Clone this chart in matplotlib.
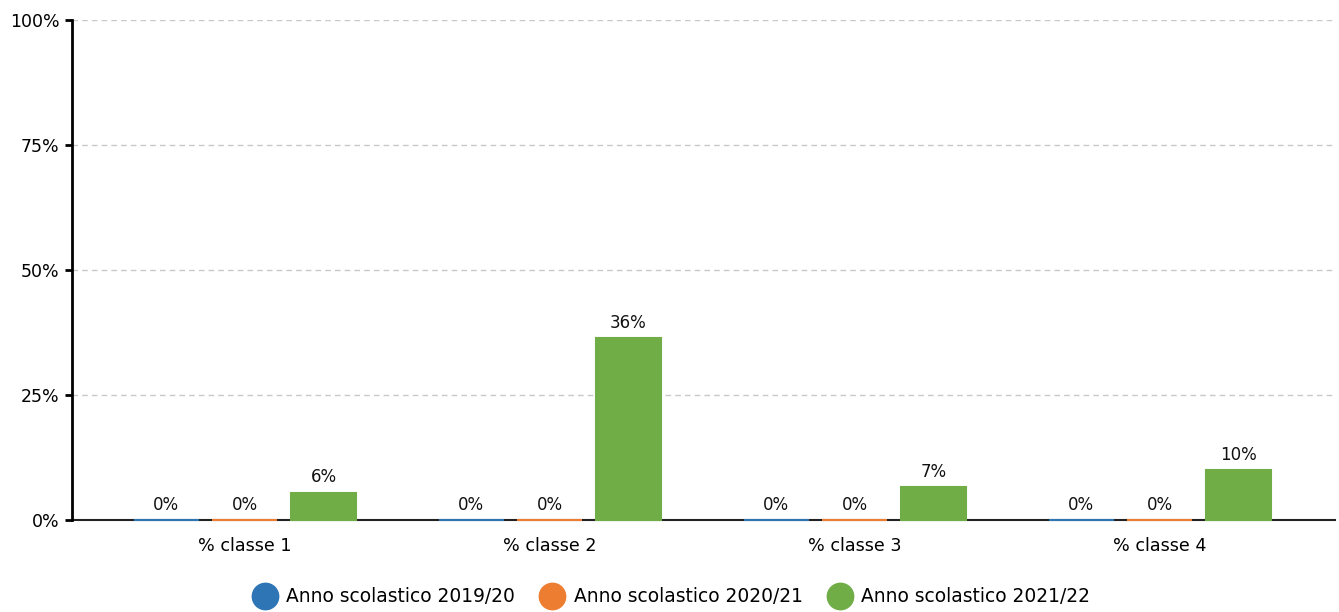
import numpy as np
import matplotlib.pyplot as plt
from matplotlib.lines import Line2D

plt.rcParams['font.family'] = ['DejaVu Sans']

categories = ['% classe 1', '% classe 2', '% classe 3', '% classe 4']
series_names = ['Anno scolastico 2019/20', 'Anno scolastico 2020/21', 'Anno scolastico 2021/22']
values_2019 = [0.0, 0.0, 0.0, 0.0]
values_2020 = [0.0, 0.0, 0.0, 0.0]
values_2021 = [5.5, 36.4, 6.6, 10.1]
colors = ['#2e75b6', '#ed7d31', '#70ad47']

fig = plt.figure(figsize=(13.39, 6.12), dpi=100)
ax = fig.add_axes([72 / 1339, 92 / 612, 1263 / 1339, 500 / 612])

x = np.arange(len(categories))
width = 0.213
step = 0.2575
all_series = [values_2019, values_2020, values_2021]

for i, vals in enumerate(all_series):
    pos = x + (i - 1) * step
    ax.bar(pos, vals, width, color=colors[i], edgecolor=colors[i], linewidth=1.5,
           zorder=4, clip_on=False)
    for p, v in zip(pos, vals):
        ax.text(p, v + 1.2, f'{round(v):.0f}%', ha='center', va='bottom', fontsize=12, color='#111111')

ax.set_xlim(-0.567, 3.574)
ax.set_ylim(0, 100)
ax.set_yticks([0, 25, 50, 75, 100])
ax.set_yticklabels(['0%', '25%', '50%', '75%', '100%'])
ax.set_xticks(x)
ax.set_xticklabels(categories)
ax.tick_params(axis='x', length=0, labelsize=12.6, pad=12)
ax.tick_params(axis='y', length=5, width=2, labelsize=12.5, pad=4)

ax.grid(axis='y', linestyle=(0, (4, 3)), color='#c8c8c8', linewidth=1, zorder=0)
ax.set_axisbelow(True)
for s in ['top', 'right']:
    ax.spines[s].set_visible(False)
ax.spines['left'].set_linewidth(2)
ax.spines['bottom'].set_linewidth(1.5)
ax.spines['left'].set_color('black')
ax.spines['bottom'].set_color('#222222')
ax.spines['bottom'].set_zorder(2)

handles = [Line2D([0], [0], marker='o', linestyle='', markersize=19,
                  markerfacecolor=c, markeredgecolor=c) for c in colors]
fig.legend(handles, series_names, loc='center', bbox_to_anchor=(0.499, 1 - 597 / 612),
           ncol=3, frameon=False, fontsize=13.4, handletextpad=0.15, columnspacing=1.0)

fig.savefig('out.png', dpi=100)
